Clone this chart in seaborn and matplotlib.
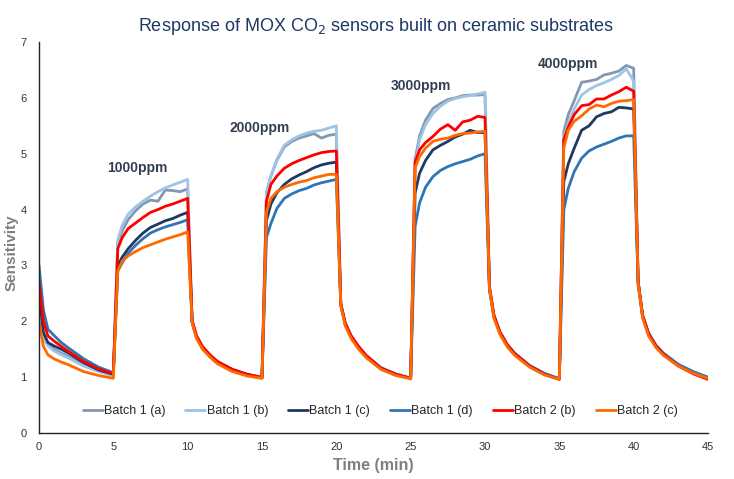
import pandas as pd
import matplotlib
matplotlib.use('Agg')
import matplotlib.pyplot as plt
import seaborn as sns

# sampling times (min)
time_min = [0, 0.3, 0.6, 1, 1.5, 2, 3, 4,
            5, 5.3, 5.6, 6, 6.5, 7, 7.5, 8, 8.5, 9, 9.5, 10,
            10.3, 10.6, 11, 11.5, 12, 13, 14,
            15, 15.3, 15.6, 16, 16.5, 17, 17.5, 18, 18.5, 19, 19.5, 20,
            20.3, 20.6, 21, 21.5, 22, 23, 24,
            25, 25.3, 25.6, 26, 26.5, 27, 27.5, 28, 28.5, 29, 29.5, 30,
            30.3, 30.6, 31, 31.5, 32, 33, 34,
            35, 35.3, 35.6, 36, 36.5, 37, 37.5, 38, 38.5, 39, 39.5, 40,
            40.3, 40.6, 41, 41.5, 42, 43, 44, 45]

batch1_a = [2.4, 1.75, 1.6, 1.5, 1.43, 1.37, 1.22, 1.11,
            1.03, 3.4, 3.62, 3.82, 3.98, 4.1, 4.17, 4.15, 4.35, 4.34, 4.32, 4.37,
            2.0, 1.71, 1.52, 1.37, 1.26, 1.12, 1.04,
            0.99, 4.3, 4.6, 4.88, 5.12, 5.22, 5.28, 5.32, 5.36, 5.28, 5.33, 5.35,
            2.3, 1.94, 1.71, 1.52, 1.37, 1.15, 1.04,
            0.98, 4.9, 5.32, 5.6, 5.81, 5.9, 5.97, 6.0, 6.04, 6.05, 6.05, 6.06,
            2.6, 2.08, 1.79, 1.56, 1.41, 1.19, 1.05,
            0.97, 5.4, 5.7, 5.95, 6.28, 6.3, 6.33, 6.41, 6.44, 6.48, 6.58, 6.53,
            2.7, 2.08, 1.76, 1.55, 1.41, 1.21, 1.08, 0.99]

batch1_b = [2.3, 1.7, 1.56, 1.47, 1.4, 1.34, 1.2, 1.1,
            1.03, 3.45, 3.72, 3.92, 4.05, 4.15, 4.24, 4.32, 4.39, 4.44, 4.49, 4.54,
            1.98, 1.7, 1.51, 1.36, 1.25, 1.11, 1.03,
            0.98, 4.3, 4.6, 4.9, 5.15, 5.25, 5.32, 5.37, 5.4, 5.42, 5.46, 5.5,
            2.3, 1.93, 1.7, 1.51, 1.36, 1.14, 1.03,
            0.98, 4.8, 5.25, 5.52, 5.72, 5.85, 5.94, 5.99, 6.02, 6.04, 6.07, 6.1,
            2.6, 2.07, 1.78, 1.55, 1.4, 1.18, 1.05,
            0.97, 5.3, 5.55, 5.8, 6.05, 6.15, 6.22, 6.27, 6.33, 6.4, 6.52, 6.3,
            2.7, 2.07, 1.75, 1.54, 1.4, 1.2, 1.08, 0.99]

batch1_c = [2.5, 1.8, 1.62, 1.56, 1.5, 1.43, 1.26, 1.13,
            1.05, 3.0, 3.15, 3.3, 3.45, 3.58, 3.68, 3.74, 3.8, 3.84, 3.9, 3.95,
            2.0, 1.72, 1.53, 1.38, 1.27, 1.13, 1.05,
            0.99, 3.8, 4.1, 4.3, 4.45, 4.55, 4.62, 4.68, 4.75, 4.8, 4.83, 4.85,
            2.3, 1.95, 1.72, 1.53, 1.38, 1.16, 1.05,
            0.98, 4.3, 4.65, 4.88, 5.07, 5.15, 5.22, 5.3, 5.35, 5.42, 5.38, 5.38,
            2.6, 2.1, 1.8, 1.57, 1.42, 1.2, 1.06,
            0.97, 4.5, 4.82, 5.1, 5.42, 5.5, 5.66, 5.72, 5.75, 5.83, 5.82, 5.8,
            2.7, 2.1, 1.78, 1.56, 1.42, 1.22, 1.09, 0.99]

batch1_d = [3.0, 2.2, 1.86, 1.75, 1.62, 1.52, 1.33, 1.18,
            1.08, 2.9, 3.05, 3.22, 3.36, 3.48, 3.58, 3.64, 3.69, 3.73, 3.77, 3.82,
            1.98, 1.71, 1.53, 1.39, 1.28, 1.14, 1.05,
            0.99, 3.5, 3.75, 4.02, 4.2, 4.28, 4.34, 4.38, 4.44, 4.48, 4.51, 4.54,
            2.3, 1.96, 1.73, 1.54, 1.39, 1.17, 1.06,
            0.98, 3.7, 4.12, 4.4, 4.59, 4.7, 4.77, 4.82, 4.86, 4.9, 4.96, 5.0,
            2.55, 2.1, 1.81, 1.58, 1.43, 1.21, 1.07,
            0.97, 4.0, 4.38, 4.68, 4.92, 5.05, 5.12, 5.17, 5.22, 5.28, 5.32, 5.32,
            2.65, 2.1, 1.79, 1.57, 1.43, 1.23, 1.1, 1.0]

batch2_b = [2.7, 2.0, 1.74, 1.65, 1.55, 1.46, 1.28, 1.15,
            1.06, 3.3, 3.5, 3.66, 3.76, 3.86, 3.95, 4.0, 4.06, 4.1, 4.15, 4.2,
            2.02, 1.74, 1.55, 1.4, 1.28, 1.14, 1.05,
            1.0, 4.15, 4.45, 4.6, 4.74, 4.82, 4.88, 4.93, 4.98, 5.02, 5.04, 5.05,
            2.32, 1.97, 1.74, 1.55, 1.39, 1.16, 1.05,
            0.98, 4.85, 5.07, 5.2, 5.31, 5.44, 5.52, 5.42, 5.57, 5.6, 5.67, 5.65,
            2.62, 2.11, 1.81, 1.58, 1.42, 1.2, 1.05,
            0.96, 5.25, 5.48, 5.7, 5.86, 5.88, 5.98, 5.98, 6.05, 6.11, 6.19, 6.12,
            2.72, 2.11, 1.78, 1.56, 1.41, 1.2, 1.06, 0.96]

batch2_c = [2.0, 1.55, 1.4, 1.33, 1.27, 1.22, 1.1, 1.03,
            0.98, 2.9, 3.08, 3.17, 3.25, 3.32, 3.37, 3.42, 3.47, 3.51, 3.55, 3.6,
            1.97, 1.69, 1.5, 1.36, 1.24, 1.1, 1.02,
            0.98, 3.95, 4.2, 4.32, 4.4, 4.45, 4.49, 4.52, 4.57, 4.6, 4.63, 4.63,
            2.28, 1.92, 1.69, 1.5, 1.35, 1.14, 1.03,
            0.97, 4.75, 4.95, 5.1, 5.22, 5.26, 5.28, 5.33, 5.36, 5.37, 5.39, 5.4,
            2.58, 2.06, 1.77, 1.54, 1.39, 1.18, 1.04,
            0.96, 5.1, 5.42, 5.58, 5.68, 5.8, 5.87, 5.84, 5.9, 5.94, 5.95, 5.97,
            2.68, 2.06, 1.74, 1.53, 1.39, 1.2, 1.07, 0.98]

series_names = ['Batch 1 (a)', 'Batch 1 (b)', 'Batch 1 (c)', 'Batch 1 (d)', 'Batch 2 (b)', 'Batch 2 (c)']
series_colors = ['#8497B0', '#9DC3E6', '#1F3864', '#2E75B6', '#FF0000', '#FF6A00']

ppm_labels = ['1000ppm', '2000ppm', '3000ppm', '4000ppm']
ppm_x = [6.6, 14.85, 25.7, 35.55]
ppm_y = [4.74, 5.46, 6.21, 6.61]

df = pd.DataFrame({'Time': time_min,
                   'Batch 1 (a)': batch1_a, 'Batch 1 (b)': batch1_b,
                   'Batch 1 (c)': batch1_c, 'Batch 1 (d)': batch1_d,
                   'Batch 2 (b)': batch2_b, 'Batch 2 (c)': batch2_c})
long_df = df.melt(id_vars='Time', var_name='Series', value_name='Sensitivity')

sns.set_style('white')
plt.rcParams['font.family'] = ['Liberation Sans Narrow', 'Liberation Sans', 'DejaVu Sans']

fig = plt.figure(figsize=(7.34, 4.79), dpi=100)
ax = fig.add_axes([0.0531, 0.096, 0.9115, 0.8163])

sns.lineplot(data=long_df, x='Time', y='Sensitivity', hue='Series',
             hue_order=series_names, palette=dict(zip(series_names, series_colors)),
             linewidth=2, ax=ax)

ax.set_xlim(0, 45)
ax.set_ylim(0, 7)
ax.set_xticks(range(0, 46, 5))
ax.set_yticks(range(0, 8))
ax.tick_params(axis='x', direction='inout', length=7, width=1, color='#404040',
               labelsize=8, labelcolor='#333333', pad=3)
ax.tick_params(axis='y', direction='out', length=5, width=1, color='#808080',
               labelsize=8, labelcolor='#333333', pad=4)
for side in ['top', 'right']:
    ax.spines[side].set_visible(False)
for side in ['left', 'bottom']:
    ax.spines[side].set_color('#222222')
    ax.spines[side].set_linewidth(1)

ax.set_xlabel('Time (min)', fontsize=11.5, fontweight='bold', color='#7F7F7F',
              family=['Liberation Sans', 'DejaVu Sans'], labelpad=4)
ax.set_ylabel('Sensitivity', fontsize=11, fontweight='bold', color='#7F7F7F',
              family=['Liberation Sans', 'DejaVu Sans'])
ax.yaxis.set_label_coords(-0.031, 0.46)

for lab, x, y in zip(ppm_labels, ppm_x, ppm_y):
    ax.text(x, y, lab, ha='center', va='center', fontsize=10, fontweight='bold',
            color='#333F50', family=['Liberation Sans', 'DejaVu Sans'])

fig.text(0.512, 0.945, 'Response of MOX CO$_2$ sensors built on ceramic substrates',
         ha='center', va='center', fontsize=13, color='#1F3864')

handles, labels = ax.get_legend_handles_labels()
ax.legend(handles, labels, loc='center', bbox_to_anchor=(0.51, 0.056), ncol=6,
          frameon=False, fontsize=9, handlelength=1.6, handletextpad=0.1,
          columnspacing=1.6)

fig.savefig('out.png', dpi=100)
